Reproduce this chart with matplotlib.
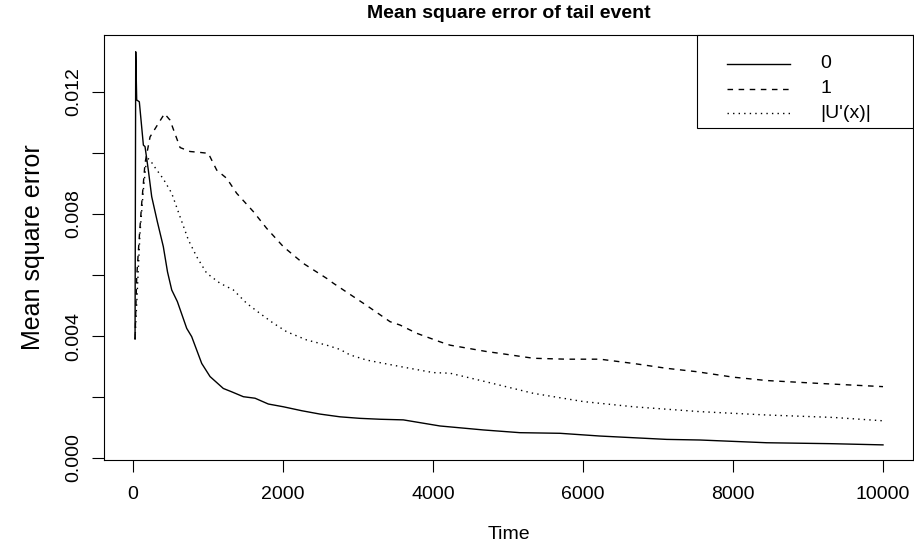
import matplotlib
matplotlib.use("Agg")
import matplotlib.pyplot as plt
from matplotlib.lines import Line2D
from matplotlib.patches import Rectangle

# ── Data ───────────────────────────────────────────────────────────────────
time_0 = [27, 36, 49, 84, 138, 160, 204, 249, 324, 404, 460, 516, 591, 716,
          782, 916, 1027, 1204, 1316, 1471, 1627, 1804, 2004, 2250, 2493,
          2760, 3027, 3300, 3604, 4093, 4671, 5160, 5693, 6227, 7116, 7560,
          8450, 9300, 10000]
mse_0 = [0.0039, 0.01332, 0.01174, 0.01168, 0.01026, 0.01021, 0.00944,
         0.00857, 0.00775, 0.00693, 0.00610, 0.00551, 0.00513, 0.00425,
         0.00398, 0.00310, 0.00267, 0.00228, 0.00217, 0.00201, 0.00196,
         0.00177, 0.00168, 0.00155, 0.00144, 0.00135, 0.00130, 0.00127,
         0.00125, 0.00105, 0.00092, 0.00083, 0.00081, 0.00072, 0.00061,
         0.00059, 0.00050, 0.00047, 0.00043]

time_1 = [27, 49, 84, 116, 160, 227, 338, 420, 493, 627, 760, 893, 1004,
          1116, 1249, 1382, 1604, 1782, 2004, 2271, 2582, 2671, 3116, 3427,
          3560, 3782, 4093, 4227, 4716, 4893, 5338, 5782, 6227, 6671, 7116,
          7516, 8004, 8449, 9116, 10000]
mse_1 = [0.0039, 0.00594, 0.00726, 0.00836, 0.00967, 0.01053, 0.01097,
         0.01129, 0.01108, 0.01018, 0.01005, 0.01002, 0.00999, 0.00944,
         0.00917, 0.00868, 0.00808, 0.00753, 0.00693, 0.00638, 0.00589,
         0.00573, 0.00500, 0.00447, 0.00436, 0.00409, 0.00381, 0.00370,
         0.00349, 0.00343, 0.00327, 0.00324, 0.00324, 0.00310, 0.00294,
         0.00283, 0.00265, 0.00254, 0.00245, 0.00234]

time_u = [27, 93, 138, 182, 227, 300, 404, 516, 627, 738, 849, 982, 1160,
          1338, 1516, 1693, 1871, 2049, 2316, 2582, 2760, 2893, 3116, 3560,
          4004, 4227, 4671, 5338, 6004, 6671, 7560, 8449, 9338, 10000]
mse_u = [0.0039, 0.00737, 0.00879, 0.00985, 0.00977, 0.00950, 0.00915,
         0.00868, 0.00791, 0.00715, 0.00660, 0.00606, 0.00573, 0.00551,
         0.00507, 0.00474, 0.00442, 0.00414, 0.00387, 0.00370, 0.00356,
         0.00338, 0.00321, 0.00300, 0.00280, 0.00278, 0.00252, 0.00212,
         0.00185, 0.00168, 0.00152, 0.00141, 0.00133, 0.00122]

labels = ["0", "1", "|U'(x)|"]
x_ticks = [0, 2000, 4000, 6000, 8000, 10000]
y_ticks = [0.000, 0.004, 0.008, 0.012]
y_minor = [0.002, 0.006, 0.010]

plt.rcParams["font.family"] = ["Liberation Sans", "DejaVu Sans"]
fs = 14
W, H = 914, 544
AX_L, AX_R, AX_T, AX_B = 104, 913, 35, 460   # plot box in pixels

fig = plt.figure(figsize=(W / 100, H / 100), dpi=100)
ax = fig.add_axes([AX_L / W, 1 - AX_B / H, (AX_R - AX_L) / W, (AX_B - AX_T) / H])

styles = [dict(), dict(dashes=(4, 4)), dict(dashes=(1, 3))]
for t, v, st in zip([time_0, time_1, time_u], [mse_0, mse_1, mse_u], styles):
    ax.plot(t, v, color="black", lw=1.0, **st)

ax.set_xlim(-387, 10400)
ax.set_ylim(-0.0000656, 0.01387)

ax.set_xticks(x_ticks)
ax.set_xticklabels([str(v) for v in x_ticks])
ax.set_yticks(y_ticks)
ax.set_yticklabels([f"{v:.3f}" for v in y_ticks], rotation=90, va="center")
ax.set_yticks(y_minor, minor=True)
ax.tick_params(which="both", direction="out", length=8.5, width=0.8,
               labelsize=fs)
ax.tick_params(axis="x", pad=10)
ax.tick_params(axis="y", pad=7)
for s in ax.spines.values():
    s.set_linewidth(0.8)

ax.set_xlabel("Time", fontsize=fs, labelpad=17)
ax.set_ylabel("Mean square error", fontsize=18, labelpad=15)
ax.set_title("Mean square error of tail event", fontsize=fs, weight="bold",
             pad=12)

# ── R-style legend box (top right, no inset) ──────────────────────────────
def px(x, y):
    return (x - AX_L) / (AX_R - AX_L), (AX_B - y) / (AX_B - AX_T)

x0, y0 = px(697, 128)
x1, y1 = px(AX_R, AX_T)
ax.add_patch(Rectangle((x0, y0), x1 - x0, y1 - y0, transform=ax.transAxes,
                       facecolor="white", edgecolor="black", lw=0.8,
                       clip_on=False, zorder=5))
for i, (lab, st) in enumerate(zip(labels, styles)):
    yr = 64 + 24.5 * i
    la, yy = px(727, yr)
    lb, _ = px(790, yr)
    tx, _ = px(820, yr)
    ax.add_line(Line2D([la, lb], [yy, yy], transform=ax.transAxes,
                       color="black", lw=1.0, zorder=6, **st))
    ax.text(tx, yy, lab, transform=ax.transAxes, fontsize=fs,
            va="center", ha="left", zorder=6)

fig.savefig("out.png", dpi=100)
